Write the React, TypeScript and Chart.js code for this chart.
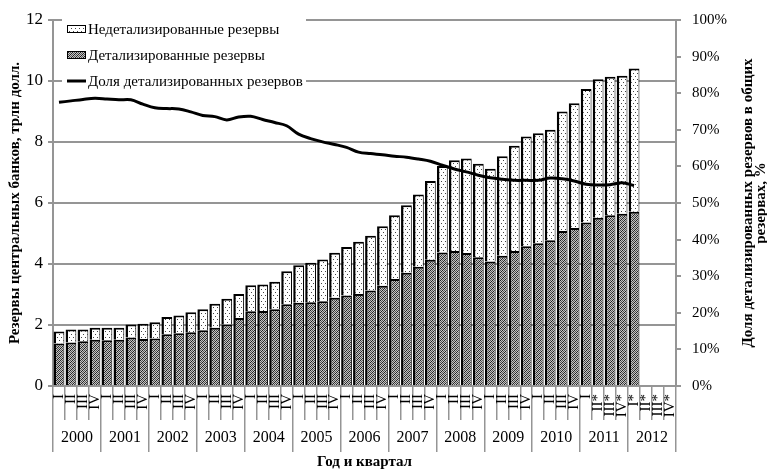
import React, { useEffect, useRef } from 'react';
import { Chart, registerables } from 'chart.js';

Chart.register(...registerables);

const years = ['2000', '2001', '2002', '2003', '2004', '2005', '2006', '2007', '2008', '2009', '2010', '2011', '2012'];

const quarterLabels = [
  'I', 'II', 'III', 'IV', 'I', 'II', 'III', 'IV', 'I', 'II', 'III', 'IV',
  'I', 'II', 'III', 'IV', 'I', 'II', 'III', 'IV', 'I', 'II', 'III', 'IV',
  'I', 'II', 'III', 'IV', 'I', 'II', 'III', 'IV', 'I', 'II', 'III', 'IV',
  'I', 'II', 'III', 'IV', 'I', 'II', 'III', 'IV',
  'I', 'II*', 'III*', 'IV*',
  'I*', 'II*', 'III*', 'IV*',
];

// Детализированные резервы, трлн долл.
const detailedReserves = [
  1.39, 1.43, 1.47, 1.52, 1.50, 1.52, 1.59, 1.54, 1.56, 1.70, 1.73, 1.76,
  1.83, 1.91, 2.02, 2.23, 2.45, 2.46, 2.52, 2.68, 2.73, 2.75, 2.78, 2.89,
  2.97, 3.02, 3.13, 3.29, 3.51, 3.71, 3.91, 4.14, 4.38, 4.43, 4.36, 4.22,
  4.08, 4.27, 4.43, 4.58, 4.68, 4.78, 5.08, 5.18, 5.36, 5.52, 5.60, 5.65,
  5.71,
];

// Недетализированные резервы, трлн долл.
const undetailedReserves = [
  0.40, 0.42, 0.38, 0.39, 0.41, 0.39, 0.43, 0.50, 0.53, 0.56, 0.58, 0.66,
  0.69, 0.79, 0.84, 0.79, 0.85, 0.87, 0.90, 1.08, 1.23, 1.29, 1.37, 1.48,
  1.59, 1.71, 1.80, 1.95, 2.09, 2.22, 2.37, 2.58, 2.83, 2.97, 3.10, 3.07,
  3.04, 3.26, 3.45, 3.60, 3.61, 3.62, 3.92, 4.09, 4.38, 4.54, 4.54, 4.52,
  4.70,
];

// Доля детализированных резервов, %
const detailedShare = [
  77.5, 77.9, 78.3, 78.6, 78.4, 78.2, 78.2, 77.0, 76.0, 75.8, 75.7, 74.9,
  73.9, 73.6, 72.7, 73.5, 73.7, 72.8, 72.0, 71.1, 68.8, 67.6, 66.7, 66.0,
  65.2, 63.9, 63.5, 63.2, 62.8, 62.5, 62.0, 61.4, 60.3, 59.3, 58.5, 57.6,
  56.9, 56.5, 56.2, 56.2, 56.2, 56.8, 56.6, 56.0, 55.1, 54.9, 55.0, 55.5,
  54.8,
];

const leftTicksMax = 12;
const rightTicksMax = 100;

const seriesNames = ['Недетализированные резервы', 'Детализированные резервы', 'Доля детализированных резервов'];
const leftTitle = 'Резервы центральных банков, трлн долл.';
const rightTitle = ['Доля детализированных резервов в общих', 'резервах, %'];
const xTitle = 'Год и квартал';

const SERIF = '"Liberation Serif", "DejaVu Serif", serif';
const GRID = '#959595';

function makePattern(w: number, h: number, draw: (c: CanvasRenderingContext2D) => void) {
  const c = document.createElement('canvas');
  c.width = w;
  c.height = h;
  const ctx = c.getContext('2d')!;
  draw(ctx);
  const p = document.createElement('canvas').getContext('2d')!.createPattern(c, 'repeat');
  return p as CanvasPattern;
}

export default function App() {
  const ref = useRef<HTMLCanvasElement>(null);

  useEffect(() => {
    document.body.style.margin = '0';
    const canvas = ref.current!;

    const darkPattern = makePattern(4, 4, (c) => {
      const m = [
        [0x22, 0xc4, 0x55, 0xc4],
        [0xc4, 0x55, 0xc4, 0x22],
        [0x55, 0xc4, 0x22, 0xc4],
        [0xc4, 0x22, 0xc4, 0x55],
      ];
      for (let y = 0; y < 4; y++)
        for (let x = 0; x < 4; x++) {
          const v = m[y][x];
          c.fillStyle = `rgb(${v},${v},${v})`;
          c.fillRect(x, y, 1, 1);
        }
    });
    const dotPattern = makePattern(4, 6, (c) => {
      c.fillStyle = '#fff';
      c.fillRect(0, 0, 4, 6);
      c.fillStyle = '#444';
      c.fillRect(1, 1, 1, 1);
      c.fillRect(3, 4, 1, 1);
    });

    const titlesAndLegend = {
      id: 'titlesAndLegend',
      afterDraw(chart: any) {
        const { ctx, chartArea } = chart;
        const midY = (chartArea.top + chartArea.bottom) / 2;
        ctx.save();
        ctx.fillStyle = '#000';
        ctx.textAlign = 'center';
        ctx.textBaseline = 'middle';
        // left title
        ctx.font = `bold 15px ${SERIF}`;
        ctx.save();
        ctx.translate(15, midY);
        ctx.rotate(-Math.PI / 2);
        ctx.fillText(leftTitle, 0, 0);
        ctx.restore();
        // right title
        ctx.save();
        ctx.translate(748, midY);
        ctx.rotate(-Math.PI / 2);
        ctx.fillText(rightTitle[0], 0, 0);
        ctx.fillText(rightTitle[1], 0, 13);
        ctx.restore();
        // x title
        ctx.fillText(xTitle, (chartArea.left + chartArea.right) / 2, 462);

        // legend
        const lx = chartArea.left + 9;
        const ly = chartArea.top - 8;
        ctx.fillStyle = '#fff';
        ctx.fillRect(lx, ly, 244, 78);
        const rows = [ly + 17, ly + 43, ly + 69];
        const sx = lx + 5;
        const sw = 19;
        ctx.font = `15px ${SERIF}`;
        ctx.textAlign = 'left';
        for (let i = 0; i < 3; i++) {
          const y = rows[i];
          if (i < 2) {
            ctx.fillStyle = '#000';
            ctx.fillRect(sx, y - 4, sw, 8);
            ctx.fillStyle = i === 0 ? dotPattern : darkPattern;
            ctx.fillRect(sx + 1, y - 3, sw - 2, 6);
          } else {
            ctx.strokeStyle = '#000';
            ctx.lineWidth = 3;
            ctx.beginPath();
            ctx.moveTo(sx, y);
            ctx.lineTo(sx + sw, y);
            ctx.stroke();
          }
          ctx.fillStyle = '#000';
          ctx.fillText(seriesNames[i], sx + sw + 2, y + 1);
        }
        ctx.restore();
      },
    };

    const barBorder = { top: 2, right: 1, bottom: 0, left: 2.5 };

    const chart = new Chart(canvas, {
      type: 'bar',
      data: {
        labels: quarterLabels,
        datasets: [
          {
            type: 'line',
            label: seriesNames[2],
            data: detailedShare,
            yAxisID: 'y1',
            xAxisID: 'x',
            borderColor: '#000',
            borderWidth: 3,
            pointRadius: 0,
            tension: 0.35,
            order: 0,
          } as any,
          {
            type: 'bar',
            label: seriesNames[1],
            data: detailedReserves,
            yAxisID: 'y',
            xAxisID: 'x',
            stack: 's',
            backgroundColor: darkPattern,
            borderColor: '#000',
            borderWidth: barBorder,
            borderSkipped: false,
            categoryPercentage: 1,
            barPercentage: 0.9,
            order: 1,
          },
          {
            type: 'bar',
            label: seriesNames[0],
            data: undetailedReserves,
            yAxisID: 'y',
            xAxisID: 'x',
            stack: 's',
            backgroundColor: dotPattern,
            borderColor: '#000',
            borderWidth: barBorder,
            borderSkipped: false,
            categoryPercentage: 1,
            barPercentage: 0.9,
            order: 2,
          },
        ],
      },
      options: {
        responsive: false,
        animation: false,
        devicePixelRatio: 1,
        layout: { padding: { top: 18, left: 0, right: 0, bottom: 0 } },
        plugins: { legend: { display: false }, tooltip: { enabled: false } },
        scales: {
          x: {
            type: 'category',
            position: 'bottom',
            stacked: true,
            offset: true,
            weight: 0,
            grid: {
              display: true,
              drawOnChartArea: false,
              offset: true,
              tickLength: 34,
              color: GRID,
              lineWidth: 1.5,
            },
            border: { display: true, color: GRID, width: 2 },
            ticks: {
              autoSkip: false,
              minRotation: 90,
              maxRotation: 90,
              padding: -26,
              color: '#000',
              font: { family: SERIF, size: 15 },
            },
            afterFit: (s: any) => { s.height = 34; },
          },
          x2: {
            type: 'category',
            position: 'bottom',
            labels: years,
            offset: true,
            weight: 1,
            grid: {
              display: true,
              drawOnChartArea: false,
              offset: true,
              tickLength: 32,
              color: GRID,
              lineWidth: 1.5,
            },
            border: { display: false },
            ticks: {
              autoSkip: false,
              maxRotation: 0,
              padding: -24,
              color: '#000',
              font: { family: SERIF, size: 16 },
            },
            afterFit: (s: any) => { s.height = 52; },
          },
          y: {
            type: 'linear',
            position: 'left',
            stacked: true,
            min: 0,
            max: leftTicksMax,
            ticks: {
              stepSize: 2,
              padding: 5,
              color: '#000',
              font: { family: SERIF, size: 17 },
            },
            grid: { color: GRID, lineWidth: 2, tickLength: 5 },
            border: { display: true, color: GRID, width: 2 },
            afterFit: (s: any) => { s.width = 53; },
          },
          y1: {
            type: 'linear',
            position: 'right',
            min: 0,
            max: rightTicksMax,
            ticks: {
              stepSize: 10,
              padding: 11,
              color: '#000',
              font: { family: SERIF, size: 15 },
              callback: (v: any) => `${v}%`,
            },
            grid: { drawOnChartArea: false, color: GRID, lineWidth: 2, tickLength: 5 },
            border: { display: true, color: GRID, width: 2 },
            afterFit: (s: any) => { s.width = 91; },
          },
        },
      },
      plugins: [titlesAndLegend],
    } as any);

    return () => chart.destroy();
  }, []);

  return (
    <div style={{ width: 767, height: 472 }}>
      <canvas ref={ref} width={767} height={472} style={{ display: 'block' }} />
    </div>
  );
}
